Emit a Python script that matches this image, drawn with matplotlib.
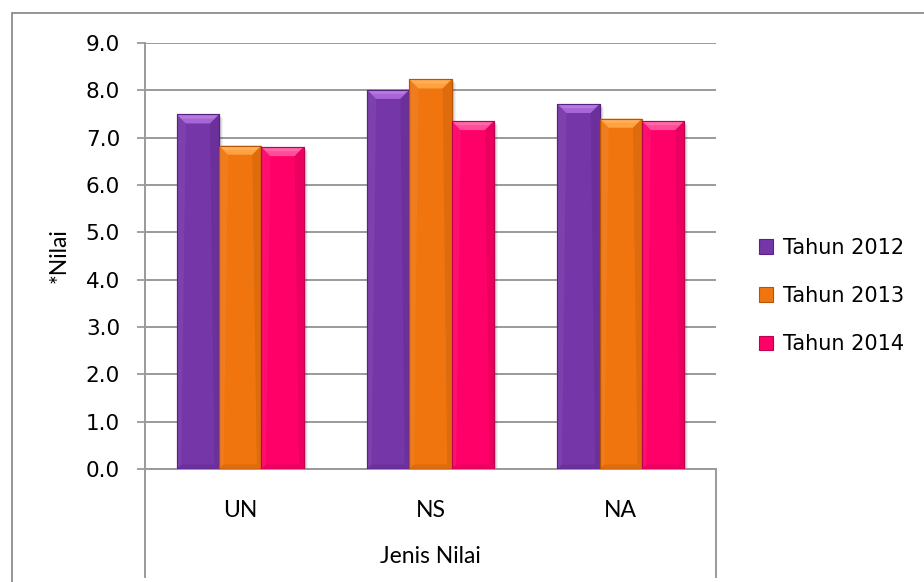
import matplotlib
matplotlib.use('Agg')
import matplotlib.pyplot as plt
from matplotlib.patches import Polygon, Rectangle, Patch
import numpy as np

categories = ['UN', 'NS', 'NA']
series = ['Tahun 2012', 'Tahun 2013', 'Tahun 2014']
values_2012 = [7.49, 8.01, 7.71]
values_2013 = [6.83, 8.23, 7.40]
values_2014 = [6.80, 7.35, 7.35]
y_ticks = [0.0, 1.0, 2.0, 3.0, 4.0, 5.0, 6.0, 7.0, 8.0, 9.0]

# base, light (top bevel), dark (edge) per series
palette = [
    ('#7536A8', '#A865D8', '#562380'),
    ('#F0750F', '#FFA23F', '#B55607'),
    ('#FF0068', '#FF4E98', '#BF004E'),
]

W, H = 924, 582
fig = plt.figure(figsize=(W / 100, H / 100), dpi=100)
L, R, T, B = 145, 716, 43, 469
ax = fig.add_axes([L / W, 1 - B / H, (R - L) / W, (B - T) / H])
ax.set_xlim(-0.5, 2.5)
ax.set_ylim(0, 9)

px_x = 3 / (R - L)   # data units per pixel
px_y = 9 / (B - T)
bev = 9

width = 1 / 4.5
x = np.arange(len(categories))
for i, vals in enumerate([values_2012, values_2013, values_2014]):
    base, light, dark = palette[i]
    for xc, v in zip(x + (i - 1) * width, vals):
        x0, x1 = xc - width / 2, xc + width / 2
        bx, by = bev * px_x, bev * px_y
        # soft shadow
        for k, a in [(4, 0.05), (3, 0.07), (2, 0.09)]:
            ax.add_patch(Rectangle((x0 + k * px_x, 0), width, v - k * px_y,
                                   facecolor='black', alpha=a, lw=0, zorder=2))
        ax.add_patch(Rectangle((x0, 0), width, v, facecolor=base,
                               edgecolor=dark, lw=0.8, zorder=3))
        # bevels
        ax.add_patch(Polygon([(x0, v), (x1, v), (x1 - bx, v - by), (x0 + bx, v - by)],
                             closed=True, facecolor=light, lw=0, zorder=4))
        ax.add_patch(Polygon([(x0 + px_x, v - px_y), (x1 - px_x, v - px_y),
                              (x1 - bx * 0.6, v - by * 0.45), (x0 + bx * 0.6, v - by * 0.45)],
                             closed=True, facecolor='white', alpha=0.15, lw=0, zorder=4))
        ax.add_patch(Polygon([(x1, v), (x1, 0), (x1 - bx * 0.5, by * 0.5), (x1 - bx, v - by)],
                             closed=True, facecolor=dark, alpha=0.3, lw=0, zorder=4))
        ax.add_patch(Polygon([(x0, 0), (x1, 0), (x1 - bx * 0.5, by * 0.5), (x0 + bx * 0.5, by * 0.5)],
                             closed=True, facecolor=dark, alpha=0.3, lw=0, zorder=4))
        ax.add_patch(Polygon([(x0, v), (x0 + bx, v - by), (x0 + bx * 0.5, by * 0.5), (x0, 0)],
                             closed=True, facecolor='white', alpha=0.06, lw=0, zorder=4))
        ax.add_patch(Rectangle((x0, 0), width, v, facecolor='none',
                               edgecolor=dark, lw=0.8, zorder=5))

grid_c = '#9a9a9a'
ax.set_yticks(y_ticks)
ax.set_yticklabels([f'{t:.1f}' for t in y_ticks], fontsize=15.5, family='DejaVu Sans')
ax.yaxis.grid(True, color=grid_c, lw=1.4, zorder=0)
ax.set_axisbelow(True)
ax.tick_params(axis='y', length=6, width=1.3, color=grid_c, pad=12)

ax.set_xticks(x)
ax.set_xticklabels(categories, fontsize=16.5, family='Lato')
ax.tick_params(axis='x', length=0, pad=22)
ax.set_xlabel('Jenis Nilai', fontsize=16.5, family='Lato', labelpad=18)
ax.set_ylabel('*Nilai', fontsize=16.5, family='Lato', labelpad=12)

for s in ['top', 'right']:
    ax.spines[s].set_visible(False)
for s in ['left', 'bottom']:
    ax.spines[s].set_color(grid_c)
    ax.spines[s].set_linewidth(1.4)

# category box lines under the axis
depth = (577 - B) / (B - T)
for xe in [0, 1]:
    ax.plot([xe, xe], [0, -depth], transform=ax.transAxes, color=grid_c,
            lw=1.4, clip_on=False)

handles = [Patch(facecolor=p[0], edgecolor=p[2], lw=0.8) for p in palette]
fig.legend(handles, series, loc='center left', bbox_to_anchor=(740 / W, 1 - 296 / H),
           frameon=False, handlelength=0.7, handleheight=0.7,
           handletextpad=0.45, labelspacing=1.35, prop={'family': 'DejaVu Sans', 'size': 15})

# chart frame
fig.patches.append(Rectangle((12 / W, -0.5), 2, 1 - 12.5 / H + 0.5, transform=fig.transFigure,
                             fill=False, edgecolor='#8c8c8c', lw=1.3))

fig.savefig('out.png', dpi=100)
